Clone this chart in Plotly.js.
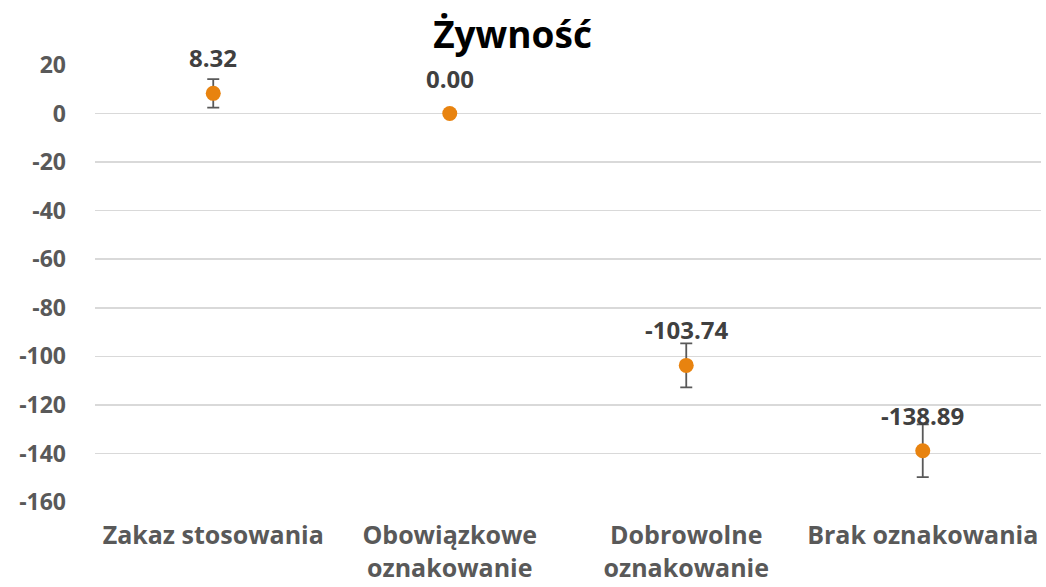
<!DOCTYPE html>
<html>
<head>
<meta charset="utf-8">
<script src="https://cdn.plot.ly/plotly-3.0.1.min.js"></script>
<style>html,body{margin:0;padding:0;background:#fff;}#chart{width:1046px;height:587px;}</style>
</head>
<body>
<div id="chart"></div>
<script>
const categories = ["Zakaz stosowania", "Obowiązkowe<br>oznakowanie", "Dobrowolne<br>oznakowanie", "Brak oznakowania"];
const values = [8.32, 0.00, -103.74, -138.89];
const errors = [5.9, 0, 9.05, 10.9];
const labels = ["8.32", "0.00", "-103.74", "-138.89"];
const yTicks = [20, 0, -20, -40, -60, -80, -100, -120, -140, -160];

const FONT = "'Open Sans', Lato, sans-serif";

const trace = {
  type: "scatter",
  mode: "markers",
  x: categories,
  y: values,
  marker: {color: "#E8830F", size: 15},
  error_y: {type: "data", array: errors, visible: true, color: "#595959", thickness: 1.8, width: 6},
  hoverinfo: "none",
  cliponaxis: false
};

const annotations = categories.map((c, i) => ({
  x: c, y: values[i], xref: "x", yref: "y",
  text: "<b>" + labels[i] + "</b>",
  showarrow: false, yanchor: "bottom", xanchor: "center", yshift: 17,
  font: {family: FONT, size: 24, color: "#404040"}
}));

const layout = {
  width: 1046, height: 587,
  margin: {l: 95, r: 5, t: 65, b: 85},
  paper_bgcolor: "#fff", plot_bgcolor: "#fff",
  showlegend: false,
  title: {text: "<b>Żywność</b>", x: 0.49, xanchor: "center", y: 0.94, yanchor: "middle",
          font: {family: FONT, size: 37, color: "#000"}},
  xaxis: {
    type: "category", range: [-0.5, 3.5], showgrid: false, zeroline: false, showline: false,
    ticks: "", ticklabelstandoff: 16,
    tickfont: {family: FONT, size: 25, color: "#595959", weight: "bold"}
  },
  yaxis: {
    range: [-160, 20], tickvals: yTicks, ticktext: yTicks.map(String),
    showgrid: true, gridcolor: "#D9D9D9", gridwidth: 1.5, zeroline: false, showline: false,
    ticks: "", ticklabelstandoff: 28,
    tickfont: {family: FONT, size: 23, color: "#595959", weight: "bold"}
  },
  annotations: annotations
};

Plotly.newPlot("chart", [trace], layout, {staticPlot: true, displayModeBar: false});
</script>
</body>
</html>
